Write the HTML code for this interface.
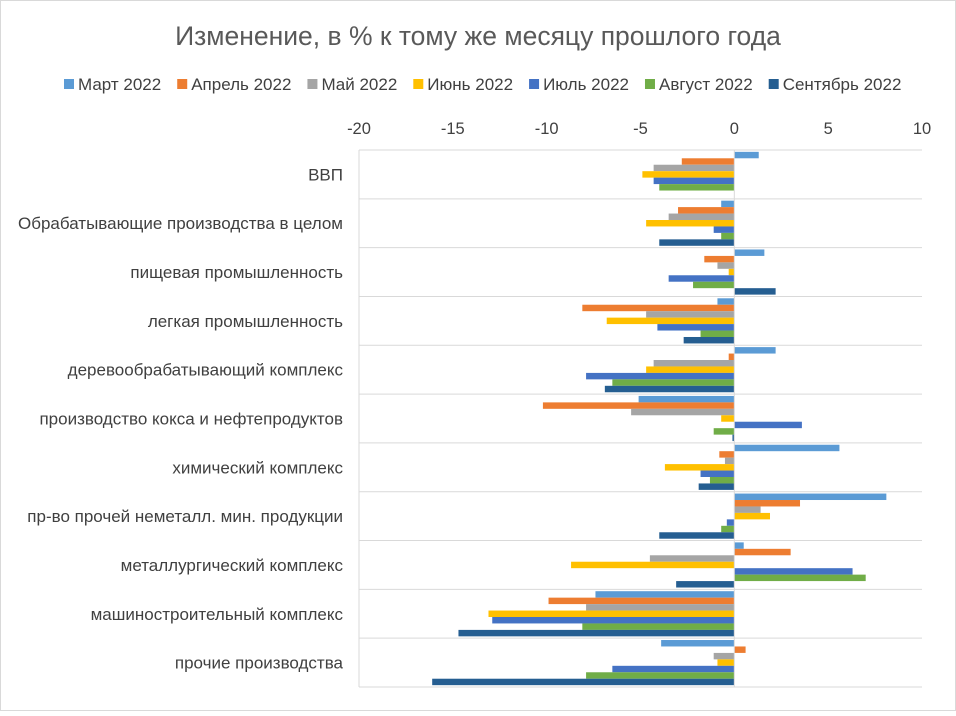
<!DOCTYPE html>
<html><head><meta charset="utf-8"><style>
body{margin:0;background:#fff;font-family:"Liberation Sans",sans-serif}
svg text{font-family:"Liberation Sans",sans-serif;fill:#404040}
</style></head><body>
<svg id="c" width="956" height="711">
<rect x="0.5" y="0.5" width="955" height="710" fill="#fff" stroke="#d9d9d9"/>
<text x="478" y="45" text-anchor="middle" font-size="26.5" style="fill:#595959">Изменение, в % к тому же месяцу прошлого года</text>
</svg>
<script>
const categories=["ВВП","Обрабатывающие производства в целом","пищевая промышленность","легкая промышленность","деревообрабатывающий комплекс","производство кокса и нефтепродуктов","химический комплекс","пр-во прочей неметалл. мин. продукции","металлургический комплекс","машиностроительный комплекс","прочие производства"];
const seriesNames=["Март 2022","Апрель 2022","Май 2022","Июнь 2022","Июль 2022","Август 2022","Сентябрь 2022"];
const mar=[1.3,-0.7,1.6,-0.9,2.2,-5.1,5.6,8.1,0.5,-7.4,-3.9];
const apr=[-2.8,-3.0,-1.6,-8.1,-0.3,-10.2,-0.8,3.5,3.0,-9.9,0.6];
const may=[-4.3,-3.5,-0.9,-4.7,-4.3,-5.5,-0.5,1.4,-4.5,-7.9,-1.1];
const jun=[-4.9,-4.7,-0.3,-6.8,-4.7,-0.7,-3.7,1.9,-8.7,-13.1,-0.9];
const jul=[-4.3,-1.1,-3.5,-4.1,-7.9,3.6,-1.8,-0.4,6.3,-12.9,-6.5];
const aug=[-4.0,-0.7,-2.2,-1.8,-6.5,-1.1,-1.3,-0.7,7.0,-8.1,-7.9];
const sep=[0,-4.0,2.2,-2.7,-6.9,-0.1,-1.9,-4.0,-3.1,-14.7,-16.1];
const ticks=[-20,-15,-10,-5,0,5,10];
const series=[mar,apr,may,jun,jul,aug,sep];
const colors=["#5B9BD5","#ED7D31","#A5A5A5","#FFC000","#4472C4","#70AD47","#255E91"];
const svg=document.getElementById('c');const NS="http://www.w3.org/2000/svg";
const L=359,R=922,T=150,B=687;
const x=v=>L+(v+20)/30*(R-L);
const band=(B-T)/categories.length;
function mk(t,a){const e=document.createElementNS(NS,t);for(const k in a)e.setAttribute(k,a[k]);svg.appendChild(e);return e;}
let lx=64;
seriesNames.forEach((n,i)=>{
 const r=mk('rect',{x:lx,y:79,width:10,height:10,fill:colors[i]});
 
 
 const t=mk('text',{x:lx+14,y:90,'font-size':17});t.textContent=n;
 
 
 lx+=14+t.getComputedTextLength()+16;
});
ticks.forEach(v=>{const t=mk('text',{x:x(v),y:134,'font-size':16.5,'text-anchor':'middle'});t.textContent=v;
 
 });
for(let i=0;i<=categories.length;i++){const l=mk('line',{x1:L,x2:R,y1:T+i*band,y2:T+i*band,stroke:'#d9d9d9'});
 
 }
mk('line',{x1:L,x2:L,y1:T,y2:B,stroke:'#d9d9d9'});
const bh=6.45,pad=(band-bh*7)/2;
categories.forEach((c,ci)=>{
 const t=mk('text',{x:343,y:T+ci*band+band/2+6,'font-size':17,'text-anchor':'end'});t.textContent=c;
 
 
 series.forEach((s,si)=>{const v=s[ci];const a=x(0),b=x(v);
  const r=mk('rect',{x:Math.min(a,b),y:T+ci*band+pad+si*bh,width:Math.abs(b-a),height:bh,fill:colors[si]});
  
  });
});
const z=mk('line',{x1:x(0),x2:x(0),y1:T,y2:B,stroke:'#d9d9d9'});


</script>
</body></html>
